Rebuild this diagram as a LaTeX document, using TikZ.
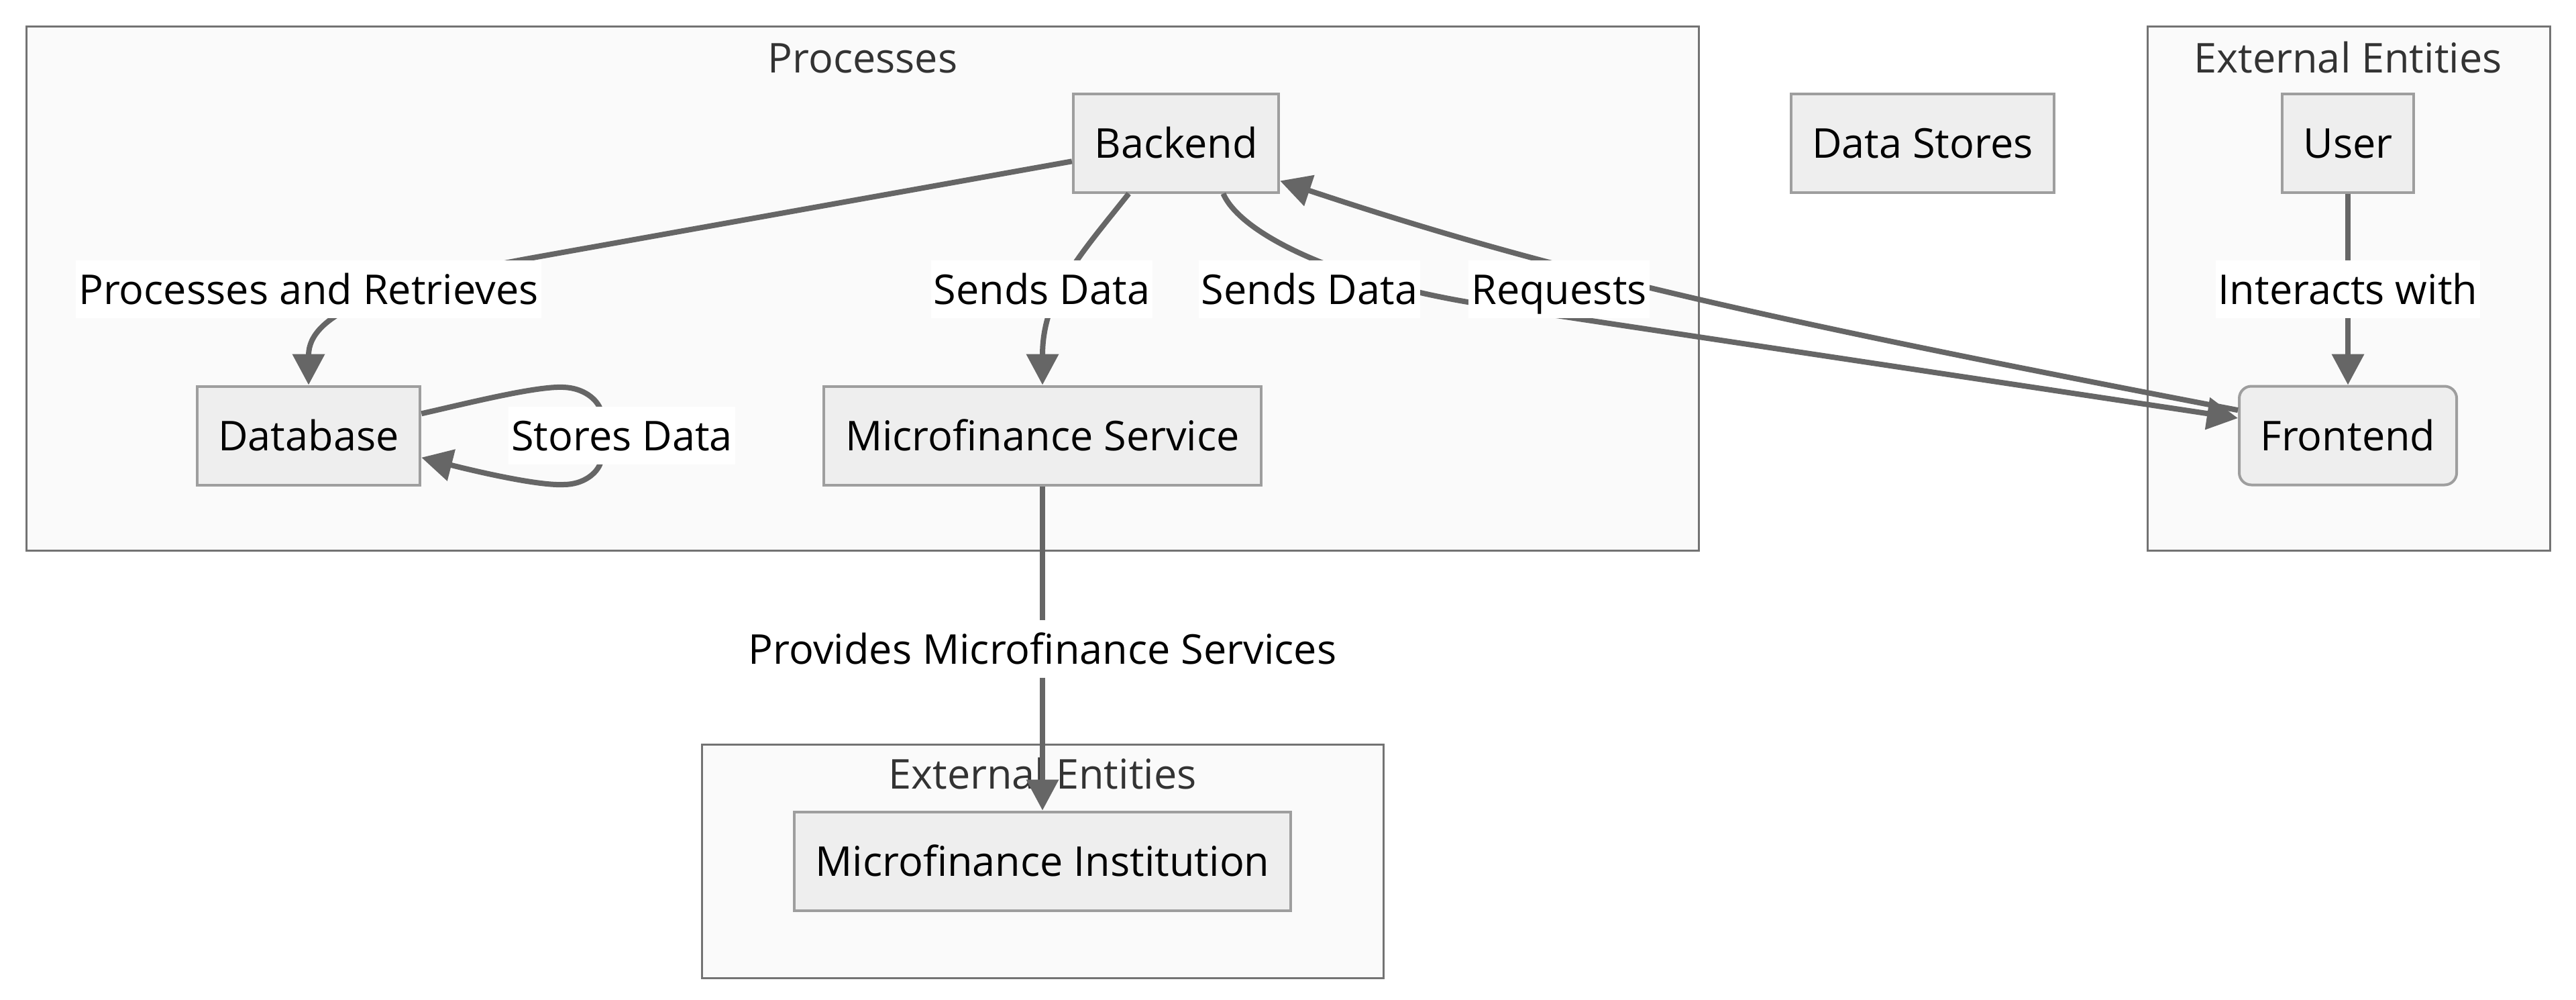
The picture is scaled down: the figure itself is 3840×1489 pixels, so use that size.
\documentclass[tikz,border=0pt]{standalone}
\usepackage{fontspec}
\setmainfont{Open Sans}
\usetikzlibrary{arrows.meta}
\definecolor{groupfill}{HTML}{FAFAFA}
\definecolor{groupline}{HTML}{737373}
\definecolor{nodefill}{HTML}{EEEEEE}
\definecolor{nodeline}{HTML}{9E9E9E}
\definecolor{edgecol}{HTML}{666666}
\definecolor{titlecol}{HTML}{333333}

\begin{document}
\begin{tikzpicture}[x=0.25pt,y=-0.25pt,font=\fontsize{15.3}{18}\selectfont,
  box/.style={draw=nodeline,fill=nodefill,line width=1pt,inner xsep=7.9pt,inner ysep=0pt,
    text height=11pt,text depth=0pt,minimum height=36.75pt},
  rbox/.style={box,rounded corners=4.5pt},
  group/.style={draw=groupline,fill=groupfill,line width=0.75pt},
  grouptitle/.style={text=titlecol,inner sep=0pt,text height=11pt,text depth=0pt},
  elabel/.style={fill=white,inner xsep=1pt,inner ysep=5.25pt,text height=11pt,text depth=0pt},
  edge/.style={draw=edgecol,line width=2pt,-{Triangle[length=11.5pt,width=11.7pt]}}]
  \useasboundingbox (0,0) rectangle (3840,1489);
  % groups
  \draw[group] (39,39) rectangle (2532,820);
  \draw[group] (3201,39) rectangle (3801,820);
  \draw[group] (1046,1109) rectangle (2062,1457);
  \node[grouptitle] (tproc) at (1286,86) {Processes};
  \node[grouptitle] (text1) at (3500,86) {External Entities};
  \node[grouptitle] (text2) at (1554,1153) {External Entities};
  % nodes
  \node[box] (backend) at (1753,213) {Backend};
  \node[box] (stores) at (2866,213) {Data Stores};
  \node[box] (user) at (3500,213) {User};
  \node[rbox] (frontend) at (3500,649) {Frontend};
  \node[box] (database) at (460,649) {Database};
  \node[box] (mfs) at (1554,649) {Microfinance Service};
  \node[box] (mfi) at (1554,1283) {Microfinance Institution};
  % edges
  \draw[edge] (backend.190) -- (800,383) .. controls (560,426) and (460,470) .. (database.north);
  \draw[edge] (backend.227) .. controls (1610,380) and (1554,440) .. (mfs.north);
  \draw[edge] (backend.313) .. controls (1850,350) and (2000,420) .. (2200,452) -- (frontend.171);
  \draw[edge] (frontend.167) .. controls (2600,470) and (2300,400) .. (backend.-20);
  \draw[edge] (user.south) -- (frontend.north);
  \draw[edge] (database.11) .. controls (700,600) and (800,575) .. (840,577)
    .. controls (870,578) and (890,595) .. (895,610) -- (895,690)
    .. controls (890,705) and (870,722) .. (840,722)
    .. controls (800,724) and (700,700) .. (database.349);
  \draw[edge] (mfs.south) -- (mfi.north);
  % edge labels
  \node[elabel] (lretr) at (460,431) {Processes and Retrieves};
  \node[elabel] (lsend1) at (1553,431) {Sends Data};
  \node[elabel] (lsend2) at (1952,431) {Sends Data};
  \node[elabel] (lreq) at (2324,431) {Requests};
  \node[elabel] (lint) at (3500,431) {Interacts with};
  \node[elabel] (lstore) at (927,649) {Stores Data};
  \node[elabel] (lprov) at (1554,967) {Provides Microfinance Services};
\end{tikzpicture}
\end{document}
